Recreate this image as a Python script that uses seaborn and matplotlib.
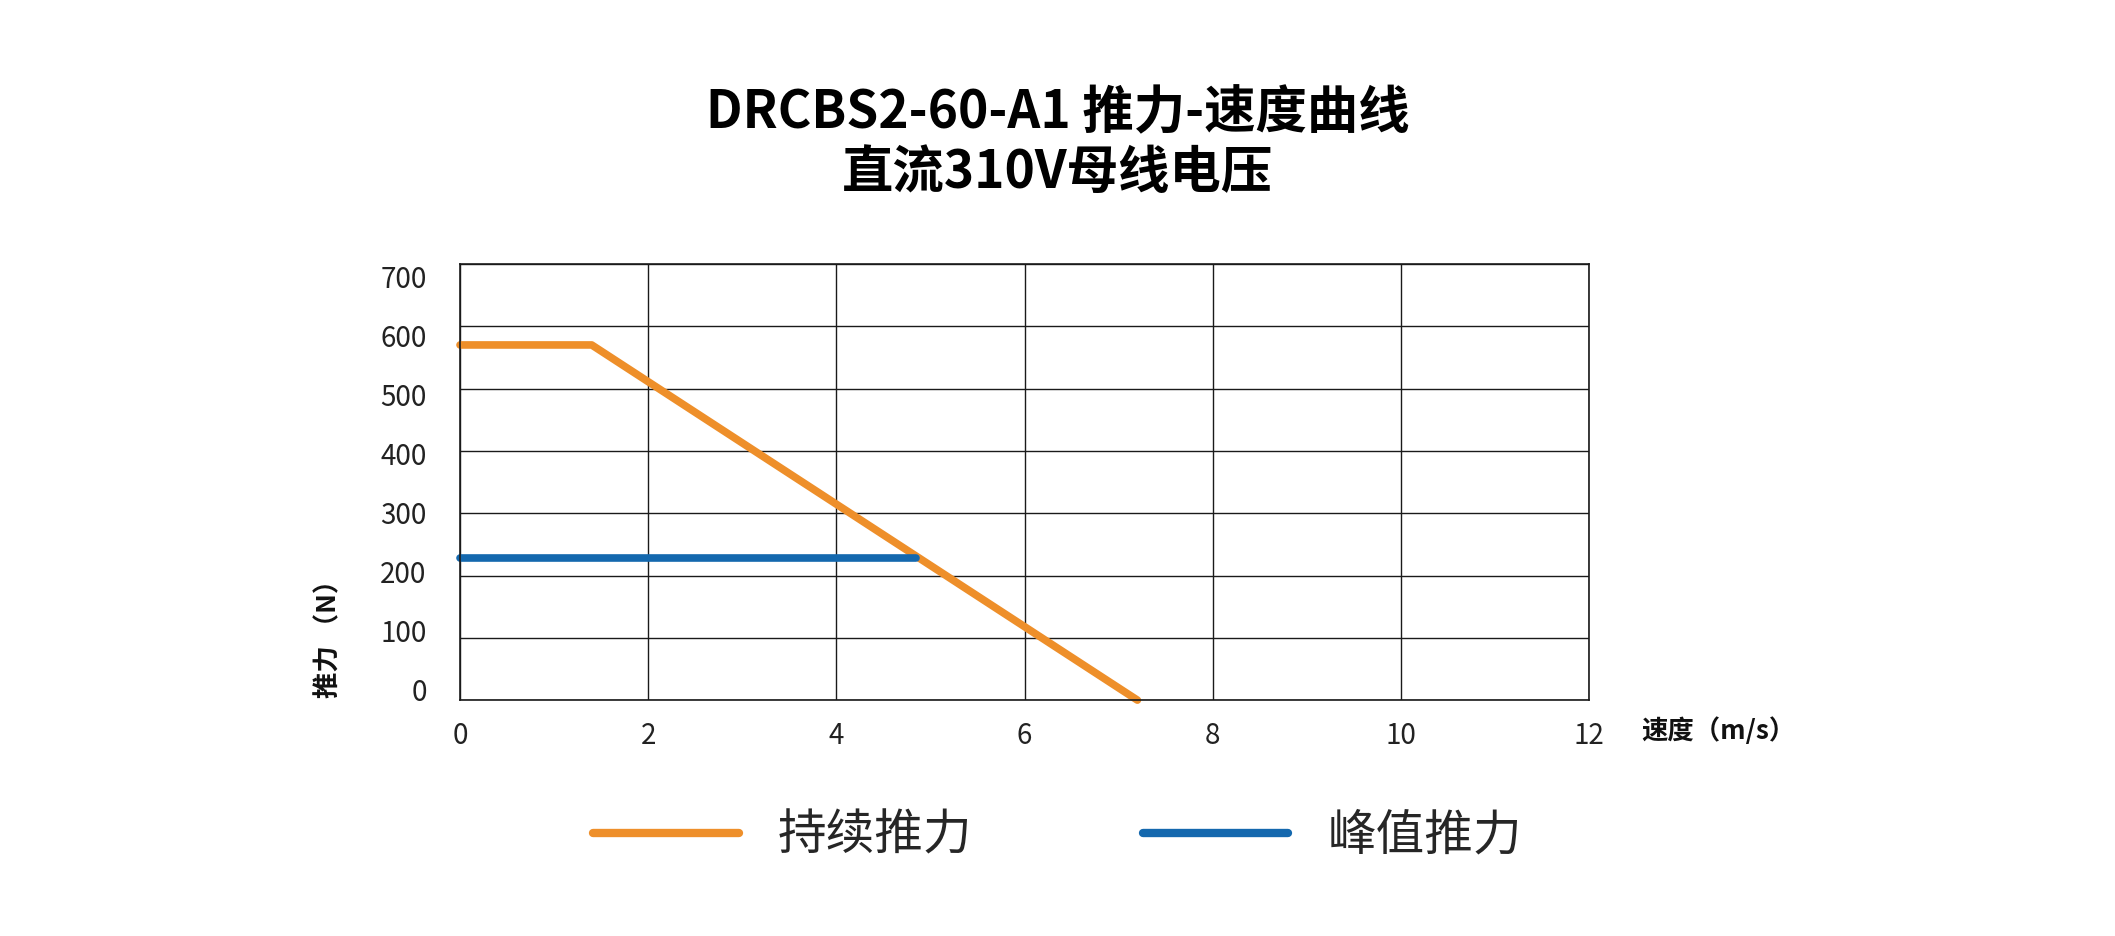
import pandas as pd
import seaborn as sns
import matplotlib.pyplot as plt
from matplotlib.lines import Line2D

# curve data
speed_cont = [0, 1.4, 7.2]
force_cont = [570, 570, 0]
speed_peak = [0, 4.85]
force_peak = [228, 228]
series_names = ['持续推力', '峰值推力']
series_colors = ['#EE8F2A', '#1468AE']
x_ticks = [0, 2, 4, 6, 8, 10, 12]
y_ticks = [0, 100, 200, 300, 400, 500, 600, 700]


def thrust_speed_chart():
    data = pd.concat([
        pd.DataFrame({'speed': speed_cont, 'force': force_cont, 'series': series_names[0]}),
        pd.DataFrame({'speed': speed_peak, 'force': force_peak, 'series': series_names[1]}),
    ])
    palette = dict(zip(series_names, series_colors))

    sns.set_theme(style="white")
    plt.rcParams['font.family'] = ['Noto Sans CJK SC', 'DejaVu Sans']

    fig = plt.figure(figsize=(21.15, 9.36), dpi=100)
    ax = fig.add_axes([0.2175, 0.252, 0.5338, 0.466])

    sns.lineplot(data=data, x='speed', y='force', hue='series', palette=palette,
                 hue_order=series_names, linewidth=5.5, sort=False, legend=False,
                 solid_capstyle='round', solid_joinstyle='round', clip_on=False, ax=ax)

    ax.set_xlim(0, 12)
    ax.set_ylim(0, 700)
    ax.set_xticks(x_ticks)
    ax.set_yticks(y_ticks)
    ax.grid(True, color='#1a1a1a', linewidth=1.0)
    ax.set_axisbelow(True)
    for s in ax.spines.values():
        s.set_color('#1a1a1a')
        s.set_linewidth(1.2)
    ax.tick_params(axis='both', length=0, labelsize=20, colors='#222222')
    ax.tick_params(axis='x', pad=15)
    ax.tick_params(axis='y', labelleft=False)
    ax.set_xlabel('')
    ax.set_ylabel('')

    # y labels in the original sit on a slightly tighter scale than the grid
    lab = ax.twinx()
    lab.set_ylim(-18.3, 720.6)
    lab.set_yticks(y_ticks)
    lab.yaxis.tick_left()
    lab.tick_params(axis='y', length=0, labelsize=20, colors='#222222', pad=24,
                    labelleft=True, labelright=False)
    lab.grid(False)
    for s in lab.spines.values():
        s.set_visible(False)

    fig.text(0.776, 0.219, '速度（m/s）', fontsize=19, fontweight='bold',
             ha='left', va='center', color='#111111')
    fig.text(0.1556, 0.324, '推力 （N）', fontsize=19, fontweight='bold',
             rotation=90, ha='center', va='center', color='#111111')

    fig.text(0.5, 0.880, 'DRCBS2-60-A1 推力-速度曲线', fontsize=37, fontweight='bold',
             ha='center', va='center', color='#000000')
    fig.text(0.5, 0.816, '直流310V母线电压', fontsize=37, fontweight='bold',
             ha='center', va='center', color='#000000')

    handles = [Line2D([0], [0], color=c, linewidth=6, solid_capstyle='round')
               for c in series_colors]
    leg = fig.legend(handles, series_names, loc='center', bbox_to_anchor=(0.5, 0.107),
                     ncol=2, frameon=False, fontsize=35, handlelength=3.0,
                     handletextpad=0.8, columnspacing=3.5)
    for t in leg.get_texts():
        t.set_fontweight('light')

    plt.savefig('out.png', dpi=100)


thrust_speed_chart()
